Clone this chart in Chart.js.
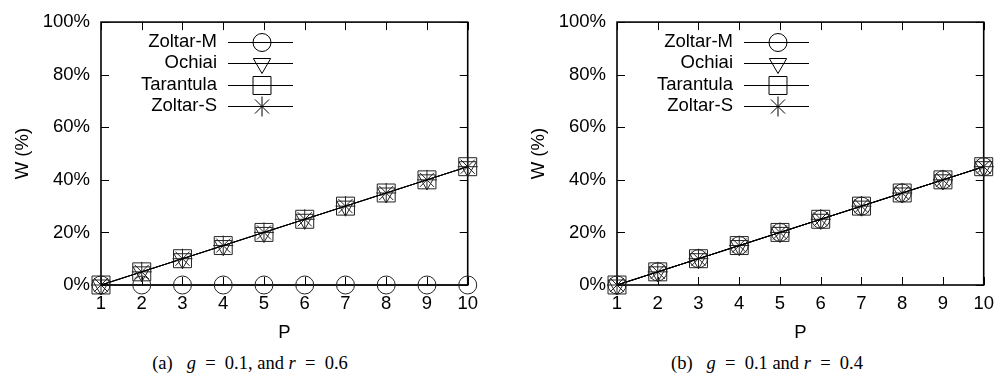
<!DOCTYPE html>
<html>
<head>
<meta charset="utf-8">
<script src="https://cdn.jsdelivr.net/npm/chart.js@4.4.0/dist/chart.umd.min.js"></script>
<style>
  html, body { margin: 0; padding: 0; background: #fff; overflow: hidden; }
  body { width: 997px; height: 383px; position: relative; }
  .panel { position: absolute; top: 0; width: 486px; height: 350px; }
  .caption {
    position: absolute; top: 353px; transform: translateX(-50%);
    font-family: "Liberation Serif", "Times New Roman", serif; font-size: 18.5px;
    white-space: nowrap; color: #000;
  }
  .caption i { font-style: italic; }
</style>
</head>
<body>
<div class="panel" style="left:0px"><canvas id="chartA" width="486" height="350"></canvas></div>
<div class="panel" style="left:516px"><canvas id="chartB" width="486" height="350"></canvas></div>
<div class="caption" style="left:250px">(a)&ensp; <i>g</i>&ensp;=&ensp;0.1, and <i>r</i>&ensp;=&ensp;0.6</div>
<div class="caption" style="left:767px">(b)&ensp; <i>g</i>&ensp;=&ensp;0.1 and <i>r</i>&ensp;=&ensp;0.4</div>

<script>
// Data
const P = [1, 2, 3, 4, 5, 6, 7, 8, 9, 10];
const seriesNames = ['Zoltar-M', 'Ochiai', 'Tarantula', 'Zoltar-S'];

// (a) g = 0.1, r = 0.6
const aZoltarM  = [0, 0, 0, 0, 0, 0, 0, 0, 0, 0];
const aOchiai   = [0, 5, 10, 15, 20, 25, 30, 35, 40, 45];
const aTarantula = [0, 5, 10, 15, 20, 25, 30, 35, 40, 45];
const aZoltarS  = [0, 5, 10, 15, 20, 25, 30, 35, 40, 45];

// (b) g = 0.1, r = 0.4
const bZoltarM  = [0, 5, 10, 15, 20, 25, 30, 35, 40, 45];
const bOchiai   = [0, 5, 10, 15, 20, 25, 30, 35, 40, 45];
const bTarantula = [0, 5, 10, 15, 20, 25, 30, 35, 40, 45];
const bZoltarS  = [0, 5, 10, 15, 20, 25, 30, 35, 40, 45];

const yTicks = [0, 20, 40, 60, 80, 100];

const FONT = '"Liberation Sans", Arial, Helvetica, sans-serif';
const markers = [
  { pointStyle: 'circle',   radius: 9,    rotation: 0 },
  { pointStyle: 'triangle', radius: 10,   rotation: 180 },
  { pointStyle: 'rect',     radius: 12.7, rotation: 0 },
  { pointStyle: 'star',     radius: 10,   rotation: 0 }
];

// gnuplot style frame with inward ticks on all four sides
const framePlugin = {
  id: 'frame',
  beforeDatasetsDraw(chart) {
    const { ctx, chartArea: a, scales: { x, y } } = chart;
    const tl = 8;
    ctx.save();
    ctx.strokeStyle = '#000';
    ctx.lineWidth = 1;
    ctx.beginPath();
    P.forEach(v => {
      const px = Math.round(x.getPixelForValue(v)) + 0.5;
      ctx.moveTo(px, a.bottom); ctx.lineTo(px, a.bottom - tl);
      ctx.moveTo(px, a.top); ctx.lineTo(px, a.top + tl);
    });
    yTicks.forEach(v => {
      const py = Math.round(y.getPixelForValue(v)) + 0.5;
      ctx.moveTo(a.left, py); ctx.lineTo(a.left + tl, py);
      ctx.moveTo(a.right, py); ctx.lineTo(a.right - tl, py);
    });
    ctx.stroke();
    ctx.lineWidth = 1.6;
    ctx.strokeRect(a.left, a.top, a.right - a.left, a.bottom - a.top);
    ctx.restore();
  }
};

// legend: right aligned labels, line sample with marker
const keyPlugin = {
  id: 'key',
  afterDraw(chart) {
    const { ctx, chartArea: a } = chart;
    ctx.save();
    ctx.font = '18.5px ' + FONT;
    ctx.textAlign = 'right';
    ctx.textBaseline = 'middle';
    chart.data.datasets.forEach((ds, i) => {
      const yy = a.top + 20 + i * 21.3;
      ctx.fillStyle = '#000';
      ctx.fillText(ds.label, a.left + 116, yy);
      ctx.strokeStyle = '#000';
      ctx.lineWidth = 1;
      ctx.beginPath();
      ctx.moveTo(a.left + 127, Math.round(yy) + 0.5);
      ctx.lineTo(a.left + 192, Math.round(yy) + 0.5);
      ctx.stroke();
      ctx.fillStyle = '#fff';
      Chart.helpers.drawPoint(ctx, {
        pointStyle: ds.pointStyle,
        radius: ds.pointRadius,
        rotation: ds.pointRotation,
        borderWidth: 1
      }, a.left + 161, Math.round(yy) + 0.5);
      // keep the sample line visible through the marker, as in the reference
      ctx.beginPath();
      ctx.moveTo(a.left + 127, Math.round(yy) + 0.5);
      ctx.lineTo(a.left + 192, Math.round(yy) + 0.5);
      ctx.stroke();
    });
    ctx.restore();
  }
};

function makeChart(id, values) {
  const datasets = values.map((vals, i) => ({
    label: seriesNames[i],
    data: vals.map((v, j) => ({ x: P[j], y: v })),
    borderColor: '#000',
    backgroundColor: 'rgba(0,0,0,0)',
    borderWidth: 1,
    pointBorderColor: '#222',
    pointBackgroundColor: 'rgba(0,0,0,0)',
    pointBorderWidth: 1,
    pointStyle: markers[i].pointStyle,
    pointRadius: markers[i].radius,
    pointRotation: markers[i].rotation,
    tension: 0,
    clip: false
  }));

  return new Chart(document.getElementById(id), {
    type: 'line',
    data: { datasets },
    options: {
      responsive: false,
      animation: false,
      events: [],
      layout: { padding: { left: 0, right: 7, top: 18, bottom: 0 } },
      plugins: { legend: { display: false }, tooltip: { enabled: false } },
      scales: {
        x: {
          type: 'linear',
          min: 1, max: 10,
          grid: { display: false, drawTicks: false },
          border: { display: false },
          ticks: {
            stepSize: 1, padding: 8, color: '#000',
            font: { family: FONT, size: 18.5 }
          },
          title: {
            display: true, text: 'P', color: '#000',
            font: { family: FONT, size: 18.5 },
            padding: { top: 0, bottom: 6 }
          },
          afterFit(scale) { scale.height = 65; }
        },
        y: {
          min: 0, max: 100,
          grid: { display: false, drawTicks: false },
          border: { display: false },
          ticks: {
            stepSize: 20, padding: 11, color: '#000',
            font: { family: FONT, size: 18.5 },
            callback: v => v + '%'
          },
          title: {
            display: true, text: 'W (%)', color: '#000',
            font: { family: FONT, size: 18.5 },
            padding: { top: 12, bottom: 0 }
          },
          afterFit(scale) { scale.width = 101; }
        }
      }
    },
    plugins: [framePlugin, keyPlugin]
  });
}

makeChart('chartA', [aZoltarM, aOchiai, aTarantula, aZoltarS]);
makeChart('chartB', [bZoltarM, bOchiai, bTarantula, bZoltarS]);
</script>
</body>
</html>
